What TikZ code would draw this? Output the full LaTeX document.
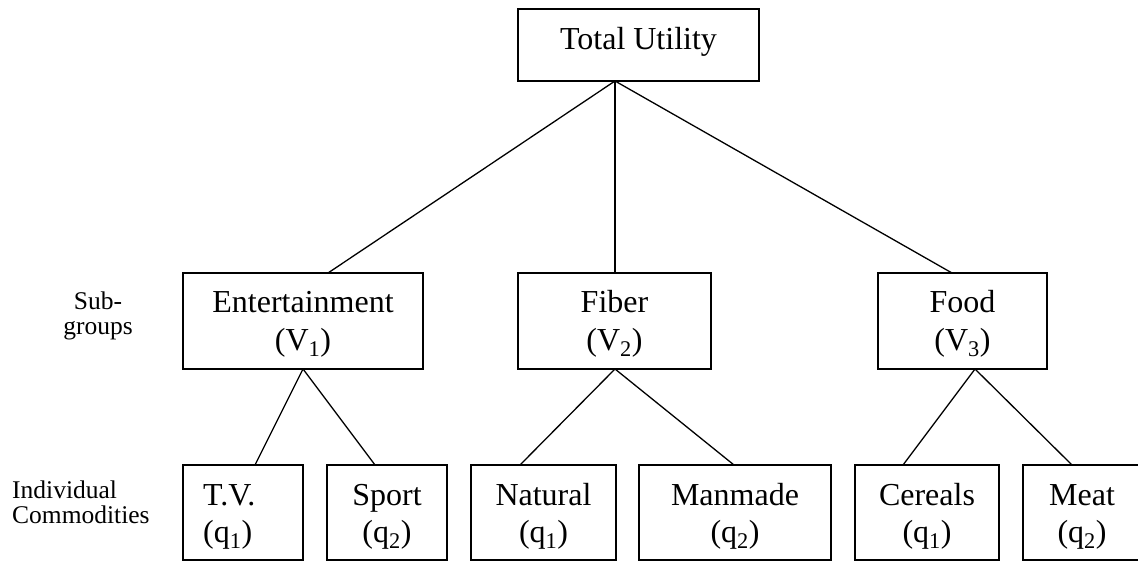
\documentclass[tikz,border=0pt]{standalone}
\usepackage{fontspec}
\setmainfont{Liberation Serif}
\usetikzlibrary{calc}
\begin{document}
\begin{tikzpicture}[x=1pt,y=-1pt,
  box/.style={draw, line width=2pt, rectangle, anchor=north west, inner sep=0pt, outer sep=0pt},
  boxtext/.style={anchor=base, inner sep=0pt, font=\fontsize{32}{37}\selectfont},
  sidetext/.style={anchor=base, inner sep=0pt, font=\fontsize{25.5}{24.5}\selectfont},
  conn/.style={line width=1.3pt}]
\useasboundingbox (0,0) rectangle (1138,561);
\begin{scope}
\clip (0,0) rectangle (1138,561);
% boxes
\node[box, minimum width=241, minimum height=72] (tu) at (518,9) {};
\node[box, minimum width=240, minimum height=96] (ent) at (183,273) {};
\node[box, minimum width=193, minimum height=96] (fib) at (518,273) {};
\node[box, minimum width=169, minimum height=96] (food) at (878,273) {};
\node[box, minimum width=120, minimum height=95] (tv) at (183,465) {};
\node[box, minimum width=120, minimum height=95] (sport) at (327,465) {};
\node[box, minimum width=145, minimum height=95] (nat) at (471,465) {};
\node[box, minimum width=192, minimum height=95] (man) at (639,465) {};
\node[box, minimum width=144, minimum height=95] (cer) at (855,465) {};
\node[box, minimum width=118, minimum height=95] (meat) at (1023,465) {};
\end{scope}
% box texts
\node[boxtext] (tuT) at ($(tu.north)+(0,41)$) {Total Utility};
\node[boxtext] (entT) at ($(ent.north)+(0,40)$) {\begin{tabular}[t]{@{}c@{}}Entertainment\\(V\textsubscript{1})\end{tabular}};
\node[boxtext] (fibT) at ($(fib.north)+(0,40)$) {\begin{tabular}[t]{@{}c@{}}Fiber\\(V\textsubscript{2})\end{tabular}};
\node[boxtext] (foodT) at ($(food.north)+(0,40)$) {\begin{tabular}[t]{@{}c@{}}Food\\(V\textsubscript{3})\end{tabular}};
\node[boxtext, anchor=base west] (tvT) at ($(tv.north west)+(20,40)$) {\begin{tabular}[t]{@{}l@{}}T.V.\\(q\textsubscript{1})\end{tabular}};
\node[boxtext] (sportT) at ($(sport.north)+(0,40)$) {\begin{tabular}[t]{@{}c@{}}Sport\\(q\textsubscript{2})\end{tabular}};
\node[boxtext] (natT) at ($(nat.north)+(0,40)$) {\begin{tabular}[t]{@{}c@{}}Natural\\(q\textsubscript{1})\end{tabular}};
\node[boxtext] (manT) at ($(man.north)+(0,40)$) {\begin{tabular}[t]{@{}c@{}}Manmade\\(q\textsubscript{2})\end{tabular}};
\node[boxtext] (cerT) at ($(cer.north)+(0,40)$) {\begin{tabular}[t]{@{}c@{}}Cereals\\(q\textsubscript{1})\end{tabular}};
\node[boxtext] (meatT) at ($(meat.north west)+(59,40)$) {\begin{tabular}[t]{@{}c@{}}Meat\\(q\textsubscript{2})\end{tabular}};
% side labels
\node[sidetext] (subg) at (98,310) {\begin{tabular}[t]{@{}c@{}}Sub-\\groups\end{tabular}};
\node[sidetext, anchor=base west] (indc) at (12,498) {\begin{tabular}[t]{@{}l@{}}Individual\\Commodities\end{tabular}};
% connectors
\draw[conn] ($(tu.south west)+(97,0)$) -- ($(ent.north west)+(145,0)$);
\draw[conn] ($(tu.south west)+(97,0)$) -- ($(fib.north west)+(97,0)$);
\draw[conn] ($(tu.south west)+(97,0)$) -- ($(food.north west)+(74,0)$);
\draw[conn] ($(ent.south west)+(120,0)$) -- ($(tv.north west)+(72,0)$);
\draw[conn] ($(ent.south west)+(120,0)$) -- ($(sport.north west)+(48,0)$);
\draw[conn] ($(fib.south west)+(97,0)$) -- ($(nat.north west)+(49,0)$);
\draw[conn] ($(fib.south west)+(97,0)$) -- ($(man.north west)+(95,0)$);
\draw[conn] ($(food.south west)+(97,0)$) -- ($(cer.north west)+(48,0)$);
\draw[conn] ($(food.south west)+(97,0)$) -- ($(meat.north west)+(49,0)$);
\end{tikzpicture}
\end{document}
